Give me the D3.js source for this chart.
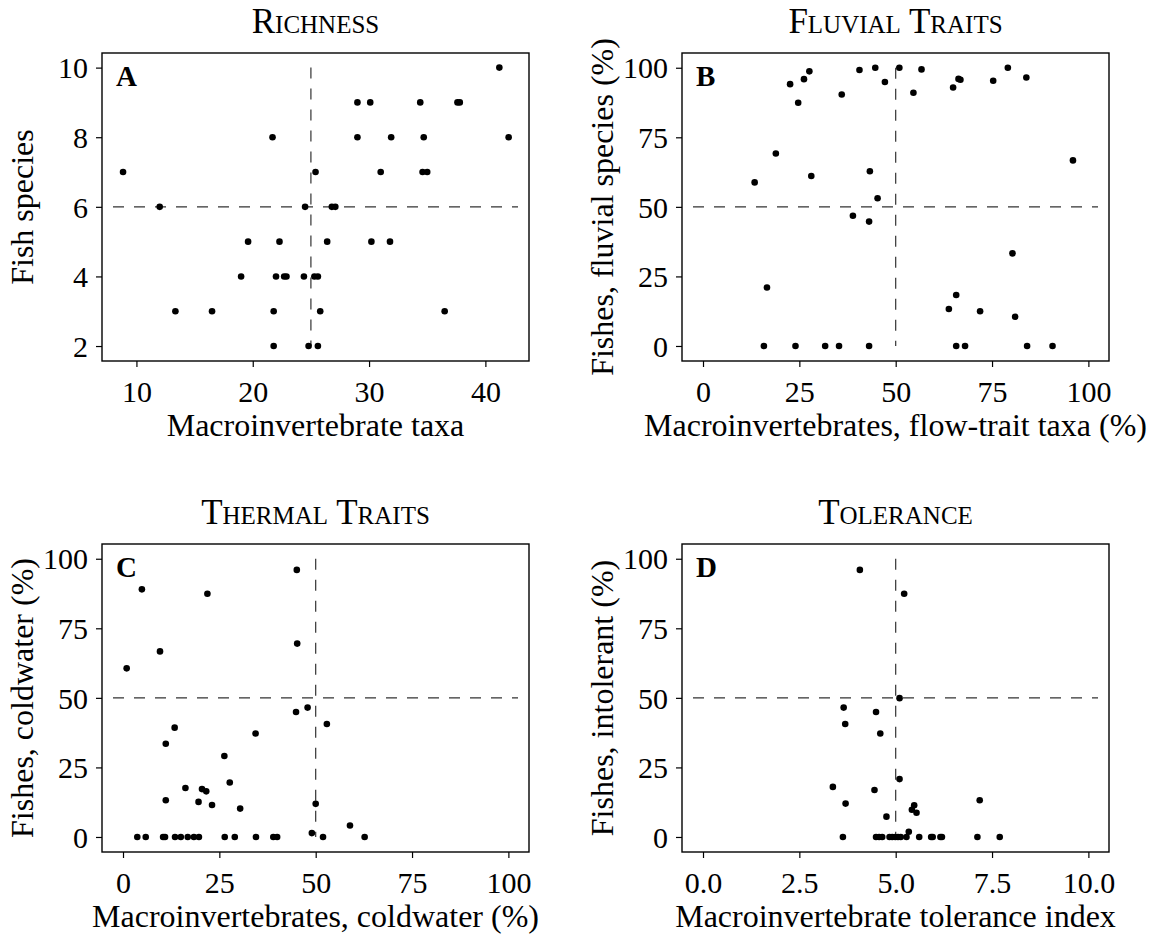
<!DOCTYPE html>
<html>
<head>
<meta charset="utf-8">
<script src="https://cdn.jsdelivr.net/npm/d3@7"></script>
<style>
  body { margin: 0; background: #fff; }
  svg { display: block; font-family: 'Liberation Serif', 'Times New Roman', serif; }
</style>
</head>
<body>
<svg id="chart" width="1150" height="936"></svg>
<script>
// Panel A: richness
const richMacro = [41.2, 29.0, 30.1, 34.4, 37.6, 37.8, 21.7, 29.0, 31.9, 34.7, 42.0,
  8.85, 25.4, 31.0, 34.6, 35.0, 12.0, 24.5, 26.8, 27.1, 19.6, 22.3, 26.4, 30.2, 31.8,
  19.0, 22.0, 22.7, 22.9, 24.4, 25.3, 25.6, 13.35, 16.5, 21.8, 25.8, 36.5, 21.8, 24.8, 25.6]
const richFish = [10, 9, 9, 9, 9, 9, 8, 8, 8, 8, 8,
  7, 7, 7, 7, 7, 6, 6, 6, 6, 5, 5, 5, 5, 5,
  4, 4, 4, 4, 4, 4, 4, 3, 3, 3, 3, 3, 2, 2, 2]

// Panel B: fluvial traits
const flowMacro = [22.6, 24.7, 26.2, 27.6, 36.0, 40.6, 44.7, 47.2, 50.95, 54.6, 56.7, 64.9,
  66.3, 66.8, 75.3, 79.1, 83.9, 18.9, 96.0, 13.4, 28.1, 43.3, 45.3, 38.9, 43.1, 80.3,
  16.6, 65.7, 63.8, 71.9, 81.0, 15.8, 24.0, 31.7, 35.3, 43.1, 65.7, 68.0, 84.1, 90.7]
const flowFish = [94.1, 87.4, 95.9, 98.7, 90.4, 99.2, 100, 94.9, 100, 91.0, 99.4, 92.9,
  96.0, 95.7, 95.3, 100, 96.5, 69.2, 66.7, 58.8, 61.1, 62.8, 53.1, 46.8, 44.7, 33.3,
  21.0, 18.3, 13.3, 12.5, 10.5, 0, 0, 0, 0, 0, 0, 0, 0, 0]

// Panel C: thermal traits
const coldMacro = [45.1, 4.9, 21.9, 45.2, 9.6, 0.95, 44.9, 47.9, 52.9, 13.4, 34.4, 11.1,
  26.3, 27.7, 16.2, 20.5, 21.6, 11.1, 19.6, 23.1, 30.4, 50.0, 58.9, 49.0,
  3.7, 5.9, 10.4, 10.9, 13.5, 15.0, 16.8, 18.4, 19.7, 26.4, 29.0, 34.5, 39.0, 40.0, 51.9, 62.7]
const coldFish = [96.0, 89.0, 87.4, 69.5, 66.7, 60.6, 44.9, 46.5, 40.6, 39.3, 37.2, 33.5,
  29.1, 19.6, 17.6, 17.2, 16.4, 13.2, 12.6, 11.5, 10.2, 11.9, 4.1, 1.4,
  0, 0, 0, 0, 0, 0, 0, 0, 0, 0, 0, 0, 0, 0, 0, 0]

// Panel D: tolerance
const tolMacro = [4.07, 5.22, 5.10, 3.65, 4.49, 3.69, 4.60, 5.10, 3.37, 4.45, 3.70, 7.18,
  5.48, 5.42, 5.54, 4.76, 5.34,
  3.63, 4.49, 4.57, 4.65, 4.84, 4.91, 4.99, 5.06, 5.13, 5.28, 5.61, 5.92, 5.96, 6.16, 6.20, 7.12, 7.70]
const tolFish = [96.0, 87.4, 49.9, 46.5, 44.9, 40.6, 37.2, 20.8, 18.0, 16.9, 12.0, 13.2,
  11.4, 9.8, 8.7, 7.3, 1.9,
  0, 0, 0, 0, 0, 0, 0, 0, 0, 0, 0, 0, 0, 0, 0, 0, 0]

const titles = ['Richness', 'Fluvial Traits', 'Thermal Traits', 'Tolerance']
const letters = ['A', 'B', 'C', 'D']
const xTitles = ['Macroinvertebrate taxa', 'Macroinvertebrates, flow-trait taxa (%)',
  'Macroinvertebrates, coldwater (%)', 'Macroinvertebrate tolerance index']
const yTitles = ['Fish species', 'Fishes, fluvial species (%)', 'Fishes, coldwater (%)', 'Fishes, intolerant (%)']
const pctTicks = [0, 25, 50, 75, 100]
const xTicks = [[10, 20, 30, 40], pctTicks, pctTicks, [0, 2.5, 5, 7.5, 10]]
const yTicks = [[2, 4, 6, 8, 10], pctTicks, pctTicks, pctTicks]
const xCuts = [25, 50, 50, 5]
const yCuts = [6, 50, 50, 50]

const xDomains = [[7.04, 43.75], [-5.45, 105.35], [-5.45, 105.35], [-0.545, 10.535]]
const yDomains = [[1.57, 10.42], [-5.4, 105.3], [-5.4, 105.3], [-5.4, 105.3]]

const series = [
  [richMacro, richFish], [flowMacro, flowFish], [coldMacro, coldFish], [tolMacro, tolFish],
]

const pw = 427
const ph = 308
const lefts = [102, 682]
const tops = [53, 544]

const svg = d3.select('#chart')
svg.append('rect').attr('width', 1150).attr('height', 936).attr('fill', '#fff')

series.forEach(([xs, ys], i) => {
  const g = svg.append('g')
    .attr('transform', `translate(${lefts[i % 2]},${tops[Math.floor(i / 2)]})`)

  const x = d3.scaleLinear().domain(xDomains[i]).range([0, pw])
  const y = d3.scaleLinear().domain(yDomains[i]).range([ph, 0])
  const fmt = i === 3 ? d3.format('.1f') : d3.format('d')

  const xAxis = g.append('g')
    .attr('transform', `translate(0,${ph})`)
    .call(d3.axisBottom(x).tickValues(xTicks[i]).tickSize(6).tickPadding(14).tickFormat(fmt))
  const yAxis = g.append('g')
    .call(d3.axisLeft(y).tickValues(yTicks[i]).tickSize(6).tickPadding(8).tickFormat(d3.format('d')))

  ;[xAxis, yAxis].forEach((ax) => {
    ax.select('.domain').remove()
    ax.selectAll('line').attr('stroke', '#000').attr('stroke-width', 1.2)
    ax.selectAll('text')
      .attr('fill', '#000')
      .style('font-family', "'Liberation Serif', serif")
      .style('font-size', '30px')
  })
  yAxis.selectAll('text').attr('dy', '0.34em')

  // reference lines
  const yt = yTicks[i]
  g.append('line')
    .attr('x1', x(xCuts[i])).attr('x2', x(xCuts[i]))
    .attr('y1', y(d3.max(yt))).attr('y2', y(d3.min(yt)))
    .attr('stroke', '#333').attr('stroke-width', 1.2)
    .attr('stroke-dasharray', '11,10')
  g.append('line')
    .attr('x1', 11).attr('x2', pw - 11)
    .attr('y1', y(yCuts[i])).attr('y2', y(yCuts[i]))
    .attr('stroke', '#333').attr('stroke-width', 1.2)
    .attr('stroke-dasharray', '11,10')

  g.append('g').selectAll('circle')
    .data(d3.zip(xs, ys))
    .join('circle')
      .attr('cx', (d) => x(d[0]))
      .attr('cy', (d) => y(d[1]))
      .attr('r', 3.3)
      .attr('fill', '#000')

  g.append('rect')
    .attr('width', pw).attr('height', ph)
    .attr('fill', 'none').attr('stroke', '#000').attr('stroke-width', 1.4)

  g.append('text')
    .attr('x', 14).attr('y', 33)
    .style('font-size', '29px').style('font-weight', 'bold')
    .text(letters[i])

  g.append('text')
    .attr('x', pw / 2).attr('y', -20)
    .attr('text-anchor', 'middle')
    .style('font-size', '35px').style('font-variant', 'small-caps')
    .text(titles[i])

  g.append('text')
    .attr('x', pw / 2).attr('y', ph + 75)
    .attr('text-anchor', 'middle')
    .style('font-size', '32px')
    .text(xTitles[i])

  g.append('text')
    .attr('transform', `translate(-69,${ph / 2}) rotate(-90)`)
    .attr('text-anchor', 'middle')
    .style('font-size', '32px')
    .text(yTitles[i])
})
</script>
</body>
</html>
